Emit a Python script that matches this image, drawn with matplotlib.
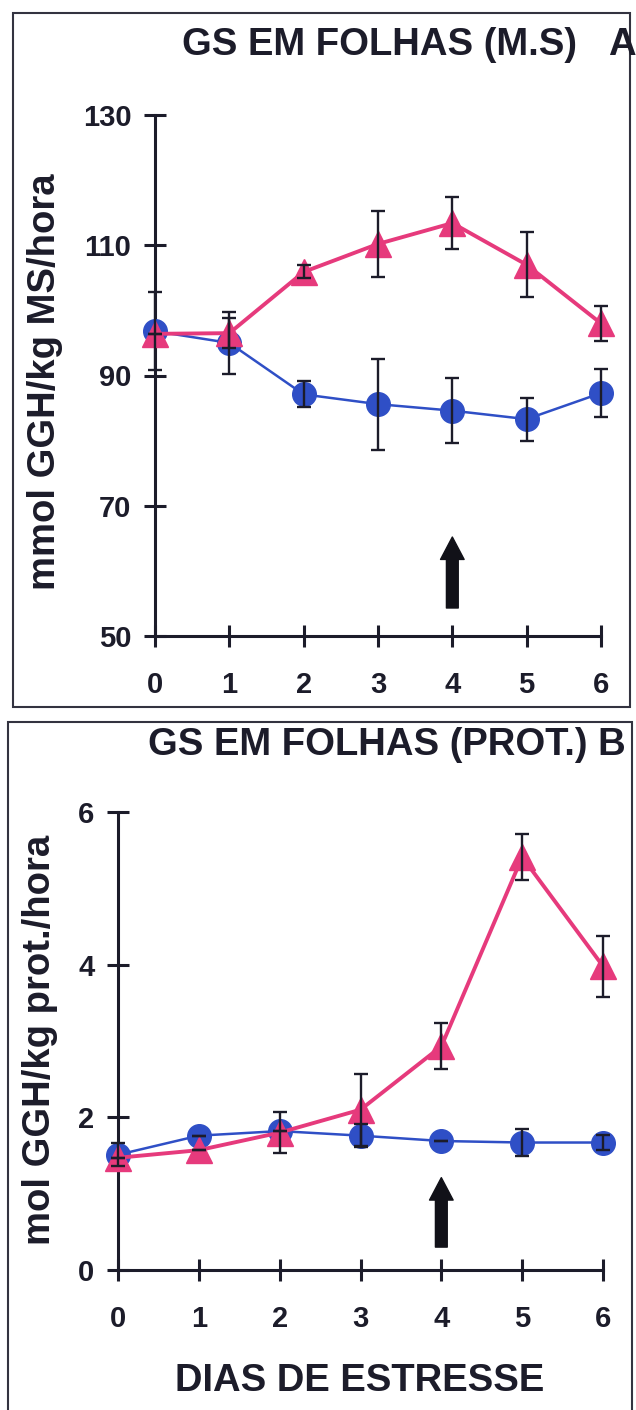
import matplotlib
matplotlib.use("Agg")
import matplotlib.pyplot as plt
from matplotlib.patches import Rectangle

plt.rcParams['font.family'] = ['Liberation Sans', 'DejaVu Sans']
plt.rcParams['font.weight'] = 'bold'

# dias de estresse
days = [0, 1, 2, 3, 4, 5, 6]

# painel A: GS em folhas (massa seca)
ms_control = [96.8, 95.0, 87.1, 85.6, 84.6, 83.3, 87.3]
ms_control_err = [6.0, 4.8, 2.0, 7.0, 5.0, 3.3, 3.7]
ms_stress = [96.4, 96.5, 105.9, 110.2, 113.4, 107.0, 98.0]
ms_stress_err = [0.0, 2.3, 1.0, 5.0, 4.0, 5.0, 2.7]

# painel B: GS em folhas (proteina)
prot_control = [1.51, 1.76, 1.82, 1.76, 1.69, 1.67, 1.67]
prot_control_err = [0.15, 0.0, 0.0, 0.15, 0.0, 0.18, 0.1]
prot_stress = [1.47, 1.57, 1.80, 2.10, 2.93, 5.41, 3.98]
prot_stress_err = [0.0, 0.0, 0.27, 0.47, 0.3, 0.3, 0.4]

ms_ticks = [50, 70, 90, 110, 130]
prot_ticks = [0, 2, 4, 6]

BLUE = '#2f4fc6'
PINK = '#e63a7c'
INK = '#1c1c2a'

W, H = 636, 1410
fig = plt.figure(figsize=(W / 100, H / 100), dpi=100)
fig.patch.set_facecolor('white')


def px(x0, y0, x1, y1):
    # pixel box (top-left origin) -> figure fraction rect
    return [x0 / W, 1 - y1 / H, (x1 - x0) / W, (y1 - y0) / H]


def draw_panel(ax, yc, yc_err, ys, ys_err, yticks, ylim, arrow):
    ax.plot(days, yc, color=BLUE, lw=1.8, marker='o', ms=17,
            mec=BLUE, mfc=BLUE, clip_on=False, zorder=3)
    ax.plot(days, ys, color=PINK, lw=2.8, marker='^', ms=19,
            mec=PINK, mfc=PINK, clip_on=False, zorder=4)
    for y, e in ((yc, yc_err), (ys, ys_err)):
        eb = ax.errorbar(days, y, yerr=e, fmt='none', ecolor=INK,
                         elinewidth=1.7, capsize=5, capthick=1.7, zorder=5)
        for art in eb.lines[1] + eb.lines[2]:
            art.set_clip_on(False)
    ax.annotate('', xy=(4, arrow[1]), xytext=(4, arrow[0]),
                arrowprops=dict(arrowstyle='simple,head_width=1.0,head_length=0.95,tail_width=0.5',
                                fc='#111118', ec='#111118', mutation_scale=17,
                                shrinkA=0, shrinkB=0))
    ax.set_xlim(0, 6)
    ax.set_ylim(*ylim)
    ax.set_xticks(days)
    ax.set_yticks(yticks)
    for s in ('top', 'right'):
        ax.spines[s].set_visible(False)
    for s in ('left', 'bottom'):
        ax.spines[s].set_linewidth(2.2)
        ax.spines[s].set_color(INK)
    ax.tick_params(direction='inout', length=16, width=2.2, color=INK,
                   labelsize=21, labelcolor=INK)
    ax.tick_params(axis='x', pad=17)
    ax.tick_params(axis='y', pad=9)
    ax.set_facecolor('none')


axA = fig.add_axes(px(155, 115, 601, 636))
draw_panel(axA, ms_control, ms_control_err, ms_stress, ms_stress_err,
           ms_ticks, (50, 130), (54.3, 65.2))

axB = fig.add_axes(px(118, 812, 603, 1270))
draw_panel(axB, prot_control, prot_control_err, prot_stress, prot_stress_err,
           prot_ticks, (0, 6), (0.3, 1.21))

# titulos, eixos
fig.text(182 / W, 1 - 45 / H, 'GS EM FOLHAS (M.S)', fontsize=27.5,
         color=INK, ha='left', va='center')
fig.text(608 / W, 1 - 45 / H, 'A', fontsize=27.5,
         color=INK, ha='left', va='center')
fig.text(148 / W, 1 - 745 / H, 'GS EM FOLHAS (PROT.) B', fontsize=27.5,
         color=INK, ha='left', va='center')
fig.text(45 / W, 1 - 382 / H, 'mmol GGH/kg MS/hora', fontsize=27.5,
         color=INK, rotation=90, ha='center', va='center')
fig.text(40 / W, 1 - 1040 / H, 'mol GGH/kg prot./hora', fontsize=27.5,
         color=INK, rotation=90, ha='center', va='center')
fig.text(360 / W, 1 - 1381 / H, 'DIAS DE ESTRESSE', fontsize=27.5,
         color=INK, ha='center', va='center')

# molduras dos dois paineis
fig.add_artist(Rectangle((13 / W, 1 - 707 / H), (630 - 13) / W, (707 - 13) / H,
                         transform=fig.transFigure, fill=False, lw=1.5, ec='#333340'))
fig.add_artist(Rectangle((8 / W, 1 - 1420 / H), (632 - 8) / W, (1420 - 722) / H,
                         transform=fig.transFigure, fill=False, lw=1.5, ec='#333340'))

fig.savefig('out.png', dpi=100)
